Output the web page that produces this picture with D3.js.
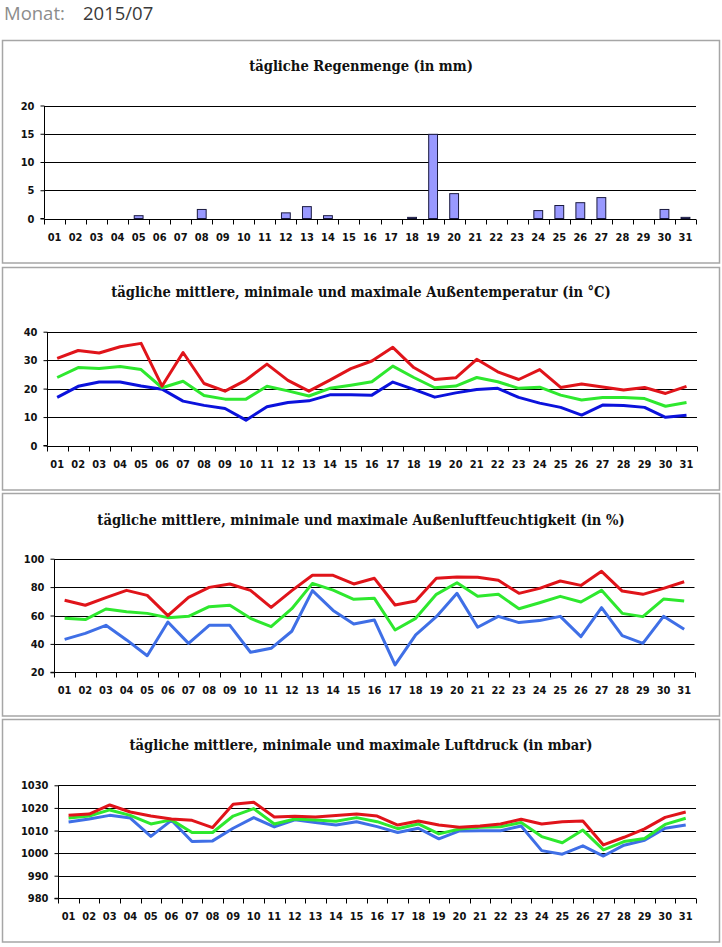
<!DOCTYPE html>
<html>
<head>
<meta charset="utf-8">
<script src="https://cdn.jsdelivr.net/npm/d3@7"></script>
<style>
  html, body { margin: 0; padding: 0; background: #fff; }
  svg { display: block; }
  .axis text { font-family: "DejaVu Sans Condensed", "DejaVu Sans", sans-serif; font-weight: bold; font-size: 11px; fill: #111; }
  .title { font-family: "DejaVu Serif Condensed", "DejaVu Serif", serif; font-weight: bold; font-size: 14.6px; fill: #111; }
</style>
</head>
<body>
<svg id="chart" width="722" height="947"></svg>
<script>
// ---------- data ----------
const days = ["01","02","03","04","05","06","07","08","09","10","11","12","13","14","15","16",
              "17","18","19","20","21","22","23","24","25","26","27","28","29","30","31"];

const rain = [0,0,0,0,0.5,0,0,1.6,0,0,0,1.0,2.1,0.5,0,0,0,0.2,14.9,4.4,0,0,0,1.4,2.3,2.8,3.7,0,0,1.6,0.2];

const tempMax  = [30.6,33.4,32.5,34.7,35.9,20.9,32.7,21.8,19.1,23.0,28.6,22.9,19.1,23.0,27.0,29.7,
                  34.5,27.4,23.2,23.8,30.3,25.9,23.2,26.7,20.4,21.6,20.6,19.5,20.4,18.3,20.8];
const tempMean = [23.9,27.4,27.1,27.8,26.7,20.3,22.6,17.6,16.3,16.3,20.8,19.2,17.4,20.1,21.2,22.4,
                  27.9,23.9,20.3,20.9,23.9,22.4,20.1,20.5,17.7,16.0,16.9,16.9,16.5,13.8,15.1];
const tempMin  = [16.9,20.8,22.3,22.3,20.9,19.8,15.6,14.1,13.0,8.9,13.6,15.1,15.7,17.8,17.8,17.7,
                  22.3,19.7,17.0,18.5,19.7,20.1,16.9,14.9,13.4,10.7,14.2,14.1,13.4,9.9,10.6];

const humMax  = [70.7,67.2,72.6,77.7,74.2,59.9,72.8,79.8,82.2,77.7,65.7,77.5,88.3,88.3,82.2,86.2,
                 67.4,70.2,86.2,87.1,86.9,84.8,75.6,79.1,84.3,81.2,91.1,77.2,74.9,79.1,83.8];
const humMean = [58.0,57.1,64.6,62.7,61.5,58.5,59.4,66.2,67.2,58.0,52.1,64.8,82.6,77.9,71.4,72.1,
                 49.8,58.0,74.9,83.1,73.5,74.9,64.8,69.0,73.5,69.5,77.7,61.5,59.2,71.6,70.2];
const humMin  = [43.2,47.4,53.1,42.8,31.7,55.4,40.4,53.1,53.1,34.1,36.9,48.9,77.5,63.6,54.0,56.8,
                 25.2,46.3,59.2,75.6,51.7,59.4,55.0,56.4,59.4,45.1,65.5,45.8,40.4,59.4,50.3];

const presMax  = [1016.7,1017.3,1021.3,1018.2,1016.4,1015.1,1014.5,1011.3,1021.6,1022.5,1016.0,1016.3,1016.0,1016.6,1017.3,1016.4,
                  1012.4,1014.2,1012.4,1011.4,1012.0,1012.9,1015.0,1012.9,1013.9,1014.2,1003.6,1007.0,1010.7,1015.8,1018.2];
const presMean = [1015.5,1016.4,1019.1,1016.7,1012.9,1014.7,1009.1,1009.1,1016.4,1019.7,1012.9,1015.1,1014.7,1014.1,1015.7,1013.9,
                  1010.8,1012.9,1008.5,1010.7,1011.4,1011.7,1013.5,1007.3,1004.6,1010.2,1001.4,1005.1,1006.5,1012.7,1015.4];
const presMin  = [1013.8,1015.1,1016.7,1015.5,1007.4,1014.5,1005.1,1005.4,1011.0,1015.7,1011.6,1014.7,1013.5,1012.4,1013.9,1011.7,
                  1009.1,1011.0,1006.3,1009.8,1009.9,1009.9,1012.0,1001.1,999.5,1003.2,998.7,1003.5,1005.7,1011.0,1012.4];

const rainTicks = [0,5,10,15,20];
const tempTicks = [0,10,20,30,40];
const humTicks  = [20,40,60,80,100];
const presTicks = [980,990,1000,1010,1020,1030];

// ---------- drawing ----------
const svg = d3.select("#chart");

// header
const hdr = svg.append("text").attr("x", 4).attr("y", 20)
  .style("font-family", "'Open Sans', 'Noto Sans', sans-serif").style("font-size", "18.5px");
hdr.append("tspan").attr("fill", "#8c8c8c").text("Monat:");
hdr.append("tspan").attr("x", 83).attr("fill", "#3a3a3a").text("2015/07");

function panel(cfg) {
  const g = svg.append("g");
  g.append("rect").attr("x", 2.5).attr("y", cfg.boxTop).attr("width", 717).attr("height", cfg.boxBottom - cfg.boxTop)
    .attr("fill", "none").attr("stroke", "#a6a6a6").attr("stroke-width", 1.5);

  g.append("text").attr("class", "title").attr("x", 361).attr("y", cfg.titleY)
    .attr("text-anchor", "middle").text(cfg.title);

  const x = d3.scaleBand().domain(days).range([cfg.left, cfg.right]).padding(0);
  const y = d3.scaleLinear().domain([cfg.ticks[0], cfg.ticks[cfg.ticks.length - 1]]).range([cfg.bottom, cfg.top]);

  // gridlines
  g.append("g").selectAll("line").data(cfg.ticks.slice(1)).join("line")
    .attr("x1", cfg.left).attr("x2", cfg.right)
    .attr("y1", d => Math.round(y(d)) + 0.5).attr("y2", d => Math.round(y(d)) + 0.5)
    .attr("stroke", "#000").attr("stroke-width", 1);

  // y axis
  const ya = g.append("g").attr("class", "axis").attr("transform", `translate(${Math.round(cfg.left) + 0.5},0)`)
    .call(d3.axisLeft(y).tickValues(cfg.ticks).tickSize(4).tickPadding(6).tickFormat(d3.format("d")));
  ya.selectAll("path,line").attr("stroke", "#000");
  ya.select(".domain").attr("d", `M-4,${y(cfg.ticks[0])}H0V${Math.round(y(cfg.ticks[cfg.ticks.length-1]))+0.5}`);

  // x axis: labels at band centers, ticks at band boundaries
  const xa = g.append("g").attr("class", "axis").attr("transform", `translate(0,${Math.round(cfg.bottom) + 0.5})`)
    .call(d3.axisBottom(x).tickSize(0).tickPadding(14));
  xa.select(".domain").attr("d", `M${cfg.left},0H${cfg.right}`).attr("stroke", "#000");
  const bounds = days.map(d => x(d)).concat([x(days[days.length - 1]) + x.step()]);
  xa.append("g").selectAll("line").data(bounds).join("line")
    .attr("x1", d => Math.round(d) + 0.5).attr("x2", d => Math.round(d) + 0.5)
    .attr("y1", 0).attr("y2", 5).attr("stroke", "#000");

  if (cfg.bars) {
    const bw = x.bandwidth() * 0.42;
    g.append("g").selectAll("rect").data(cfg.bars).join("rect")
      .attr("x", (d, i) => x(days[i]) + (x.bandwidth() - bw) / 2)
      .attr("y", d => y(d))
      .attr("width", bw)
      .attr("height", d => y(0) - y(d))
      .attr("fill", "#9999ff").attr("stroke", "#1a1a40").attr("stroke-width", 1)
      .attr("visibility", d => d > 0 ? "visible" : "hidden");
  }
  if (cfg.series) {
    const line = d3.line().x((d, i) => x(days[i]) + x.bandwidth() / 2).y(d => y(d));
    cfg.series.forEach(s => {
      g.append("path").datum(s.values).attr("d", line)
        .attr("fill", "none").attr("stroke", s.color).attr("stroke-width", 3)
        .attr("stroke-linejoin", "round");
    });
  }
}

panel({
  boxTop: 40.5, boxBottom: 263, titleY: 71, title: "tägliche Regenmenge (in mm)",
  left: 44, right: 696, top: 105.5, bottom: 218.5, ticks: rainTicks, bars: rain
});
panel({
  boxTop: 267.5, boxBottom: 490, titleY: 296.5, title: "tägliche mittlere, minimale und maximale Außentemperatur (in °C)",
  left: 46.7, right: 697, top: 331.7, bottom: 445.5, ticks: tempTicks,
  series: [
    { values: tempMin,  color: "#0b12dc" },
    { values: tempMean, color: "#2ee82e" },
    { values: tempMax,  color: "#e0141a" }
  ]
});
panel({
  boxTop: 493.5, boxBottom: 716, titleY: 525, title: "tägliche mittlere, minimale und maximale Außenluftfeuchtigkeit (in %)",
  left: 54.3, right: 694.5, top: 558.7, bottom: 672.3, ticks: humTicks,
  series: [
    { values: humMin,  color: "#3f6fe6" },
    { values: humMean, color: "#2ee82e" },
    { values: humMax,  color: "#e0141a" }
  ]
});
panel({
  boxTop: 719.5, boxBottom: 942, titleY: 750, title: "tägliche mittlere, minimale und maximale Luftdruck (in mbar)",
  left: 58.3, right: 696, top: 785.3, bottom: 898.3, ticks: presTicks,
  series: [
    { values: presMin,  color: "#3f6fe6" },
    { values: presMean, color: "#2ee82e" },
    { values: presMax,  color: "#e0141a" }
  ]
});
</script>
</body>
</html>
